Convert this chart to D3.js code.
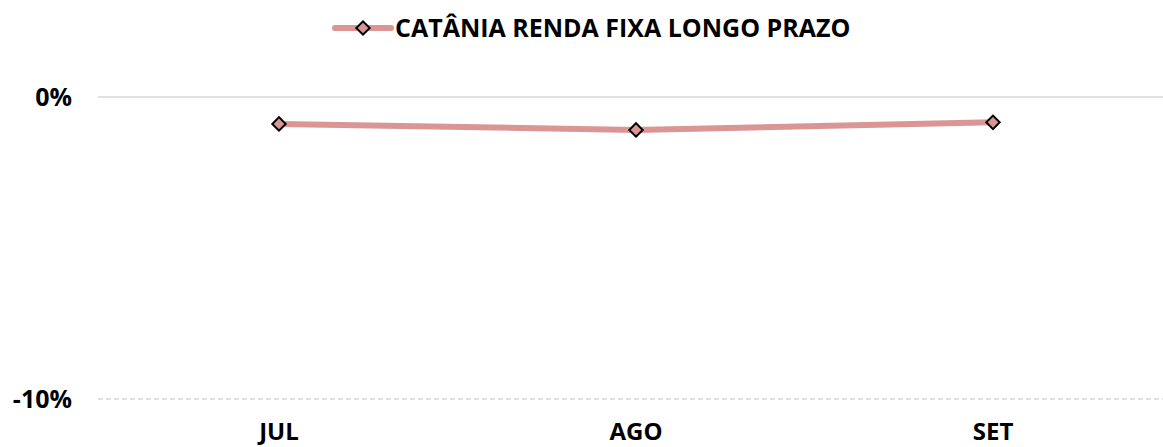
<!DOCTYPE html>
<html>
<head>
<meta charset="utf-8">
<script src="https://cdn.jsdelivr.net/npm/d3@7"></script>
<style>
  body { margin: 0; background: #fff; }
  text { font-family: "Open Sans", sans-serif; font-weight: bold; fill: #000; }
</style>
</head>
<body>
<svg id="chart"></svg>
<script>
const MONTHS = ["JUL", "AGO", "SET"];
const RETURNS = [-0.89, -1.09, -0.84];
const Y_TICKS = [0, -10];
const SERIES_NAME = "CATÂNIA RENDA FIXA LONGO PRAZO";

const WIDTH = 1163;
const HEIGHT = 447;
const LINE_COLOR = "#d99694";

const svg = d3.select("#chart")
  .attr("width", WIDTH)
  .attr("height", HEIGHT);

// scales
const xScale = d3.scaleBand().domain(MONTHS).range([100.5, 1171.5]);
const yScale = d3.scaleLinear().domain([-10, 0]).range([399, 97]);

// gridlines
svg.append("g")
  .selectAll("line")
  .data(Y_TICKS)
  .enter()
  .append("line")
  .attr("x1", 98)
  .attr("x2", WIDTH)
  .attr("y1", d => yScale(d))
  .attr("y2", d => yScale(d))
  .attr("stroke", "#d9d9d9")
  .attr("stroke-width", 1.5)
  .attr("stroke-dasharray", d => d === 0 ? null : "5,3");

// y labels
svg.append("g")
  .selectAll("text")
  .data(Y_TICKS)
  .enter()
  .append("text")
  .attr("x", 72)
  .attr("y", d => yScale(d) + 9)
  .attr("text-anchor", "end")
  .style("font-size", "25px")
  .text(d => d + "%");

// x labels
svg.append("g")
  .selectAll("text")
  .data(MONTHS)
  .enter()
  .append("text")
  .attr("x", d => xScale(d) + xScale.bandwidth() / 2)
  .attr("y", 440)
  .attr("text-anchor", "middle")
  .style("font-size", "24px")
  .text(d => d);

const points = MONTHS.map((m, i) => ({ m, v: RETURNS[i] }));

// line
const line = d3.line()
  .x(d => xScale(d.m) + xScale.bandwidth() / 2)
  .y(d => yScale(d.v));

svg.append("path")
  .datum(points)
  .attr("d", line)
  .attr("fill", "none")
  .attr("stroke", LINE_COLOR)
  .attr("stroke-width", 6)
  .attr("stroke-linejoin", "round");

const diamond = d3.symbol().type(d3.symbolSquare).size(90);

svg.append("g")
  .selectAll("path")
  .data(points)
  .enter()
  .append("path")
  .attr("d", diamond)
  .attr("transform", d => `translate(${xScale(d.m) + xScale.bandwidth() / 2},${yScale(d.v)}) rotate(45)`)
  .attr("fill", LINE_COLOR)
  .attr("stroke", "#000")
  .attr("stroke-width", 2);

// legend
const legend = svg.append("g");
legend.append("line")
  .attr("x1", 335).attr("x2", 391)
  .attr("y1", 28).attr("y2", 28)
  .attr("stroke", LINE_COLOR)
  .attr("stroke-width", 6)
  .attr("stroke-linecap", "round");
legend.append("path")
  .attr("d", diamond)
  .attr("transform", "translate(363,28) rotate(45)")
  .attr("fill", LINE_COLOR)
  .attr("stroke", "#000")
  .attr("stroke-width", 2);
legend.append("text")
  .attr("x", 395)
  .attr("y", 37)
  .style("font-size", "25px")
  .text(SERIES_NAME);
</script>
</body>
</html>
